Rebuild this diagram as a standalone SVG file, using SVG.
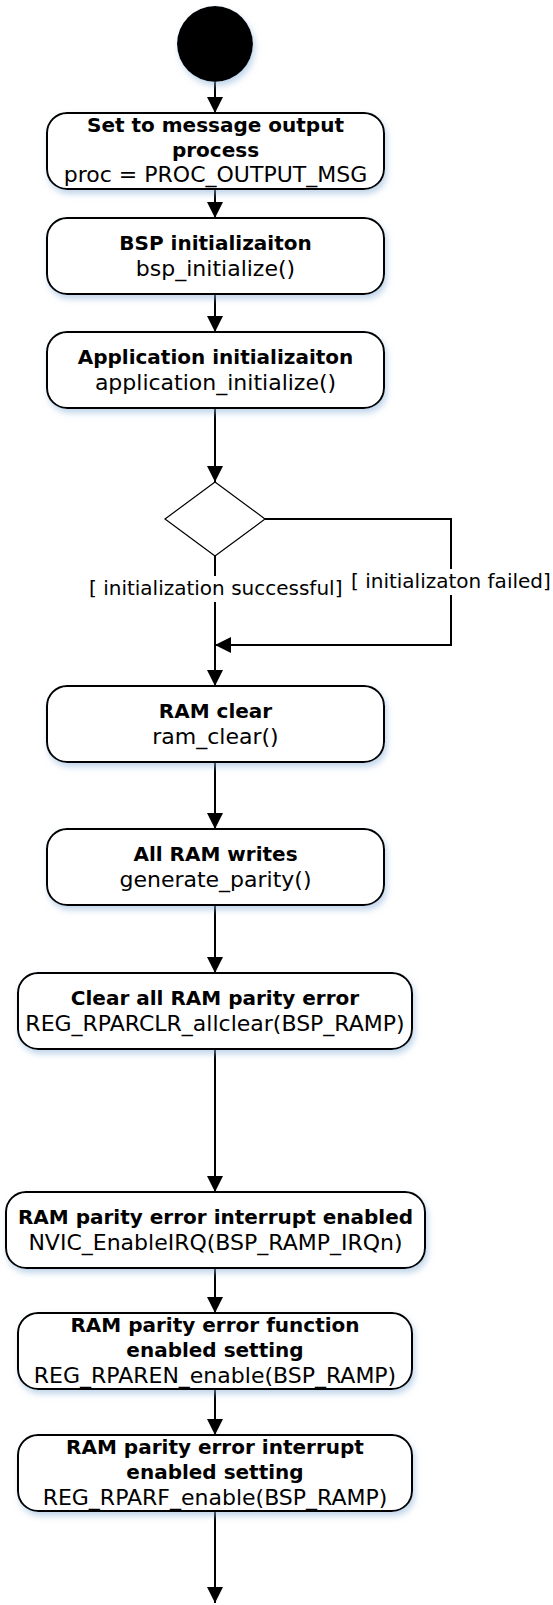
<svg xmlns="http://www.w3.org/2000/svg" width="553" height="1605" viewBox="0 0 553 1605">
<defs>
<filter id="sh" x="-10%" y="-20%" width="125%" height="150%">
<feDropShadow dx="2" dy="4" stdDeviation="3" flood-color="#8fb3d9" flood-opacity="0.55"/>
</filter>
<marker id="ah" markerUnits="userSpaceOnUse" markerWidth="16" markerHeight="16" refX="16" refY="8" orient="auto">
<path d="M0,0 L16,8 L0,16 z" fill="#000"/>
</marker>
<style>
.box{fill:#fff;stroke:#000;stroke-width:2;filter:url(#sh)}
.b{font-family:"DejaVu Sans",Verdana,sans-serif;font-weight:bold;font-size:20px;text-anchor:middle;fill:#000}
.r{font-family:"DejaVu Sans",Verdana,sans-serif;font-size:22px;text-anchor:middle;fill:#000}
.lbl{font-family:"DejaVu Sans",Verdana,sans-serif;font-size:20px;fill:#000}
.c{fill:none;stroke:#000;stroke-width:2}
.ca{fill:none;stroke:#000;stroke-width:2;marker-end:url(#ah)}
</style>
</defs>
<rect width="553" height="1605" fill="#fff"/>
<g id="connectors">
<path class="ca" d="M215,82 V113"/>
<path class="ca" d="M215,189 V218"/>
<path class="ca" d="M215,294 V332"/>
<path class="ca" d="M215,408 V482"/>
<path class="ca" d="M215,556 V686"/>
<path class="ca" d="M265,519 H451 V645 H215"/>
<path class="ca" d="M215,762 V829"/>
<path class="ca" d="M215,905 V973"/>
<path class="ca" d="M215,1049 V1192"/>
<path class="ca" d="M215,1268 V1313"/>
<path class="ca" d="M215,1389 V1435"/>
<path class="ca" d="M215,1511 V1603"/>
</g>
<g id="start"><circle cx="215" cy="44" r="38" fill="#000" filter="url(#sh)"/></g>
<g id="n1"><rect class="box" x="47" y="113" width="337" height="76" rx="20"/>
<text class="b" x="215.5" y="132">Set to message output</text>
<text class="b" x="215.5" y="157">process</text>
<text class="r" x="215.5" y="182">proc = PROC_OUTPUT_MSG</text></g>
<g id="n2"><rect class="box" x="47" y="218" width="337" height="76" rx="20"/>
<text class="b" x="215.5" y="250">BSP initializaiton</text>
<text class="r" x="215.5" y="276">bsp_initialize()</text></g>
<g id="n3"><rect class="box" x="47" y="332" width="337" height="76" rx="20"/>
<text class="b" x="215.5" y="364">Application initializaiton</text>
<text class="r" x="215.5" y="390">application_initialize()</text></g>
<g id="decision"><polygon points="215,482 265,519 215,556 165,519" fill="#fff" stroke="#000" stroke-width="1.2"/></g>
<g id="lbl-ok"><rect x="87" y="576" width="258" height="26" fill="#fff"/>
<text class="lbl" x="89" y="595">[ initialization successful]</text></g>
<g id="lbl-fail"><rect x="349" y="569" width="204" height="26" fill="#fff"/>
<text class="lbl" x="351" y="588">[ initializaton failed]</text></g>
<g id="n4"><rect class="box" x="47" y="686" width="337" height="76" rx="20"/>
<text class="b" x="215.5" y="718">RAM clear</text>
<text class="r" x="215.5" y="744">ram_clear()</text></g>
<g id="n5"><rect class="box" x="47" y="829" width="337" height="76" rx="20"/>
<text class="b" x="215.5" y="861">All RAM writes</text>
<text class="r" x="215.5" y="887">generate_parity()</text></g>
<g id="n6"><rect class="box" x="18" y="973" width="394" height="76" rx="20"/>
<text class="b" x="215" y="1005">Clear all RAM parity error</text>
<text class="r" x="215" y="1031">REG_RPARCLR_allclear(BSP_RAMP)</text></g>
<g id="n7"><rect class="box" x="6" y="1192" width="419" height="76" rx="20"/>
<text class="b" x="215.5" y="1224">RAM parity error interrupt enabled</text>
<text class="r" x="215.5" y="1250">NVIC_EnableIRQ(BSP_RAMP_IRQn)</text></g>
<g id="n8"><rect class="box" x="18" y="1313" width="394" height="76" rx="20"/>
<text class="b" x="215" y="1332">RAM parity error function</text>
<text class="b" x="215" y="1357">enabled setting</text>
<text class="r" x="215" y="1383">REG_RPAREN_enable(BSP_RAMP)</text></g>
<g id="n9"><rect class="box" x="18" y="1435" width="394" height="76" rx="20"/>
<text class="b" x="215" y="1454">RAM parity error interrupt</text>
<text class="b" x="215" y="1479">enabled setting</text>
<text class="r" x="215" y="1505">REG_RPARF_enable(BSP_RAMP)</text></g>
</svg>
